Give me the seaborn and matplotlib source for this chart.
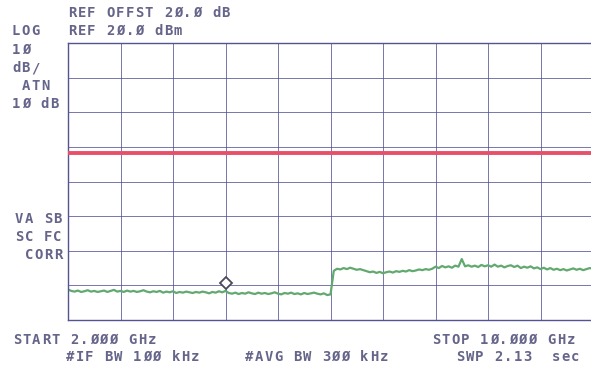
import numpy as np
import pandas as pd
import matplotlib
matplotlib.use("Agg")
import matplotlib.pyplot as plt
import seaborn as sns

# trace (GHz, dBm)
freq_left = np.round(np.arange(2.0, 6.0001, 0.05), 2)
level_left = [
    -51.2, -51.6, -51.8, -51.5, -51.9, -51.7, -51.4, -51.8, -51.6, -51.9,
    -51.7, -51.5, -51.9, -51.6, -51.3, -51.8, -51.6, -51.9, -51.5, -51.8,
    -51.6, -51.9, -51.7, -51.4, -51.8, -52.0, -51.7, -51.9, -51.6, -52.1,
    -51.8, -52.0, -51.7, -52.2, -51.9, -52.1, -51.8, -52.0, -52.2, -51.9,
    -52.1, -51.8, -52.0, -52.3, -51.9, -52.1, -51.7, -52.0, -51.6, -52.2,
    -52.4, -52.1, -52.5, -52.2, -52.4, -52.0, -52.3, -52.5, -52.1, -52.4,
    -52.2, -52.5, -52.3, -52.0, -52.4, -52.6, -52.2, -52.4, -52.1, -52.5,
    -52.3, -52.6, -52.2, -52.5, -52.3, -52.1, -52.4, -52.6, -52.3, -52.8,
    -52.6,
]
freq_right = np.round(np.arange(6.05, 10.0001, 0.05), 2)
level_right = [
    -45.8, -45.2, -45.4, -45.0, -45.3, -44.9, -45.2, -45.5, -45.3, -45.6,
    -45.9, -46.2, -46.0, -46.4, -46.1, -46.5, -46.2, -46.0, -46.3, -45.9,
    -46.1, -45.8, -46.0, -45.6, -45.9, -45.7, -45.4, -45.6, -45.3, -45.5,
    -45.2, -44.6, -45.0, -44.4, -44.8, -44.5, -44.9, -44.3, -44.6, -42.4,
    -44.5, -44.2, -44.6, -44.3, -44.7, -44.1, -44.5, -44.2, -44.6, -44.0,
    -44.6, -44.3, -44.8, -44.4, -44.2, -44.7, -44.3, -45.0, -44.6, -44.9,
    -44.5, -45.1, -44.8, -45.3, -44.9, -45.4, -45.0, -45.5, -45.2, -45.6,
    -45.3, -45.7, -45.4, -45.1, -45.5, -45.2, -45.6, -45.3, -45.0, -45.2,
]
limit_line = -11.8
marker_freq = 4.4
marker_level = -49.4

x_ticks = [2.0, 2.8, 3.6, 4.4, 5.2, 6.0, 6.8, 7.6, 8.4, 9.2, 10.0]
y_ticks = [-60, -50, -40, -30, -20, -10, 0, 10, 20]

W, H = 591, 368
ink = "#65648a"
grid_col = "#545494"

sns.set_style("white")
fig = plt.figure(figsize=(W / 100, H / 100), dpi=100)
ax = fig.add_axes([68 / W, 48 / H, 525 / W, 277 / H])

trace = pd.DataFrame({
    "freq": np.concatenate([freq_left, freq_right]),
    "level": level_left + level_right,
})
sns.lineplot(data=trace, x="freq", y="level", ax=ax, color="#62a970", lw=1.6)
ax.axhline(limit_line, color="#e8506a", lw=2.8, zorder=3)
ax.plot([marker_freq], [marker_level], marker="D", ms=6.5, mfc="white",
        mec="#4a4a5a", mew=1.3, zorder=4)

ax.set_xlim(2.0, 10.0)
ax.set_ylim(-60, 20)
ax.set_xticks(x_ticks)
ax.set_yticks(y_ticks)
ax.set_xticklabels([])
ax.set_yticklabels([])
ax.tick_params(length=0)
ax.set_xlabel("")
ax.set_ylabel("")
ax.grid(True, color=grid_col, lw=0.7, alpha=0.8)
for sp in ax.spines.values():
    sp.set_color(grid_col)
    sp.set_linewidth(1.0)


def label(x, y, s, pitch=9.6):
    # dot-matrix style text, one character per cell
    for i, ch in enumerate(s):
        fig.text((x + i * pitch) / W, 1 - y / H, ch, color=ink,
                 family="DejaVu Sans Mono", weight="bold", fontsize=10,
                 ha="left", va="center")


label(68, 13, "REF OFFST 2Ø.Ø dB")
label(12, 31, "LOG")
label(68, 31, "REF 2Ø.Ø dBm")
label(12, 50, "1Ø")
label(12, 68, "dB/")
label(22, 86, "ATN")
label(12, 104, "1Ø dB")
label(15, 219, "VA SB")
label(15, 237, "SC FC")
label(25, 255, "CORR")
label(13, 340, "START 2.ØØØ GHz")
label(66, 357, "#IF BW 1ØØ kHz")
label(245, 357, "#AVG BW 3ØØ kHz")
label(432, 340, "STOP 1Ø.ØØØ GHz")
label(456, 357, "SWP 2.13  sec")

fig.savefig("out.png", dpi=100)
